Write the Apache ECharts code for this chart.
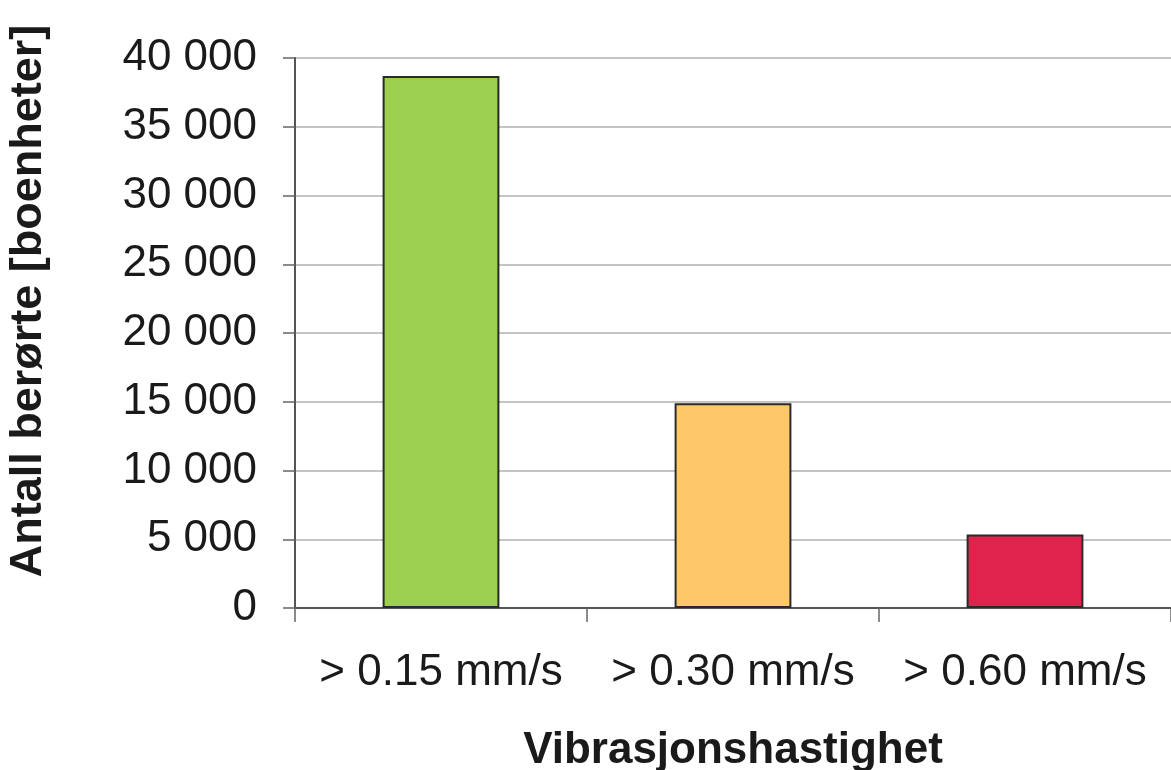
<!DOCTYPE html>
<html><head><meta charset="utf-8">
<script src="https://cdn.jsdelivr.net/npm/echarts@6/dist/echarts.min.js"></script>
<style>html,body{margin:0;padding:0;background:#fff}#c{width:1171px;height:770px}</style>
</head><body><div id="c"></div>
<script>
const categories = ['> 0.15 mm/s', '> 0.30 mm/s', '> 0.60 mm/s'];
const values = [38700, 14900, 5350];
const barColors = ['#9ccf50', '#fec86a', '#e0234c'];
const yTitle = 'Antall berørte [boenheter]';
const xTitle = 'Vibrasjonshastighet';

const FONT = 'Liberation Sans, Arial, sans-serif';
const chart = echarts.init(document.getElementById('c'));
chart.setOption({
  animation: false,
  grid: { left: 295, right: 0, top: 58, bottom: 162, containLabel: false, outerBoundsMode: 'none' },
  xAxis: {
    type: 'category', data: categories,
    axisLine: { lineStyle: { color: '#555', width: 2 } },
    axisTick: { show: true, length: 14, lineStyle: { color: '#666', width: 1.5 } },
    axisLabel: { color: '#1a1a1a', fontSize: 44, fontFamily: FONT, margin: 43, interval: 0, hideOverlap: false },
    name: xTitle, nameLocation: 'middle', nameGap: 121,
    nameTextStyle: { color: '#1a1a1a', fontSize: 44, fontWeight: 'bold', fontFamily: FONT }
  },
  yAxis: {
    type: 'value', min: 0, max: 40000, interval: 5000,
    axisLine: { show: true, lineStyle: { color: '#555', width: 2 } },
    axisTick: { show: true, length: 12, lineStyle: { color: '#666', width: 1.5 } },
    splitLine: { lineStyle: { color: '#b0b0b0', width: 1.5 } },
    axisLabel: {
      color: '#1a1a1a', fontSize: 44, fontFamily: FONT, margin: 38,
      formatter: v => String(v).replace(/\B(?=(\d{3})+(?!\d))/g, ' ')
    },
    name: yTitle, nameLocation: 'middle', nameGap: 244, nameRotate: 90,
    nameTextStyle: { color: '#1a1a1a', fontSize: 45, fontWeight: 'bold', fontFamily: FONT, padding: [0, 0, 0, 64] }
  },
  series: [{
    type: 'bar', barCategoryGap: '60%',
    data: values.map((v, i) => ({ value: v, itemStyle: { color: barColors[i] } })),
    itemStyle: { borderColor: '#2a2a2a', borderWidth: 2 }
  }]
});
</script></body></html>
